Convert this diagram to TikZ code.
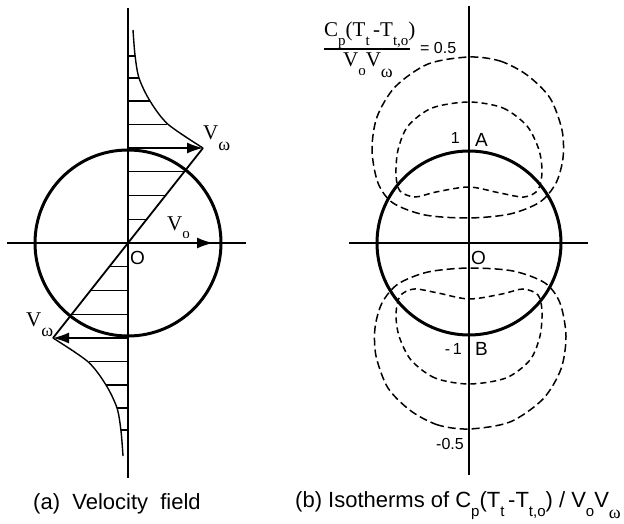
\documentclass[tikz,border=0pt]{standalone}
\usepackage{fontspec}
\setmainfont{Liberation Sans}
\newfontfamily\serf{Liberation Serif}
\usepackage{tikz}
\usetikzlibrary{arrows.meta,positioning,calc}
\newcommand{\dn}[1]{\raisebox{-0.42em}{\fontsize{15}{15}\selectfont #1}}
\newcommand{\dnw}{\raisebox{-0.50em}{\fontsize{18}{18}\selectfont\serf ω}}
\tikzset{
  ax/.style={line width=1.4pt},
  cyl/.style={line width=3pt},
  prof/.style={line width=1.4pt},
  hatch/.style={line width=1.3pt},
  varr/.style={line width=1.6pt,-{Latex[length=16pt,width=11pt]}},
  isoOut/.style={line width=1.5pt,dash pattern=on 8pt off 4pt},
  isoIn/.style={line width=1.5pt,dash pattern=on 6pt off 4pt},
  fracbar/.style={line width=1.5pt},
  lab/.style={font=\fontsize{19}{21}\selectfont,inner sep=0pt},
  vlab/.style={font=\serf\fontsize{21}{22}\selectfont,inner sep=0pt},
  num/.style={font=\fontsize{16}{17}\selectfont,inner sep=0pt},
  capt/.style={font=\fontsize{22}{24}\selectfont,inner sep=0pt},
}
\begin{document}
\begin{tikzpicture}[x=1pt,y=-1pt]
  \useasboundingbox (0,0) rectangle (624,524);
  % (a) velocity field
  \coordinate (Oa) at (128,243);
  \coordinate (tipU) at (203,148);
  \coordinate (tipL) at (53,338);
  \coordinate (baseU) at (128,148);
  \coordinate (baseL) at (128,338);
  \coordinate (voEnd) at (213,243);
  \draw[ax] (128,8) -- (128,478);
  \draw[ax] (7,243) -- (246,243);
  \draw[cyl] (Oa) circle[radius=93pt];
  \foreach \r in {0,180}{%
    \begin{scope}[rotate around={\r:(Oa)}]
      \draw[prof] plot[smooth] coordinates {(133,30) (135,55) (139,78) (150,101) (168,124.25) (203,148)};
      \foreach \y/\x in {219.25/146.75,195.5/165.5,171.75/184.25,124.25/167,101/150,78/139,56/135}{%
        \draw[hatch] (128,\y) -- (\x,\y);}
    \end{scope}}
  \draw[line width=1.8pt] (tipL) -- (tipU);
  \draw[varr] (baseU) -- (tipU);
  \draw[varr] (baseL) -- (tipL);
  \draw[varr] (Oa) -- (voEnd);
  \node[vlab,anchor=base west] (vwU) at (203,140) {V\dnw};
  \node[vlab,anchor=base west] (vwL) at (26,326) {V\dnw};
  \node[vlab,anchor=base west] (vo) at (167,230) {V\dn{o}};
  \node[lab,anchor=base west] (oA) at (130,264) {O};
  % (b) isotherms
  \coordinate (Ob) at (469,243);
  \draw[ax] (469,6) -- (469,475);
  \draw[ax] (349,243) -- (588,243);
  \draw[cyl] (Ob) circle[radius=92pt];
  \foreach \r in {0,180}{%
    \begin{scope}[rotate around={\r:(Ob)}]
      \draw[isoOut] plot[smooth cycle] coordinates {(469,57) (500,61) (527,75) (550,98) (562,130) (563,158) (556,183) (540,202) (510,214) (469,218) (425,215) (393,203) (378,183) (372,150) (377,117) (395,87) (428,64)};
      \draw[isoIn] plot[smooth cycle] coordinates {(469,102) (503,108) (527,126) (539,150) (542,172) (538,190) (524,197) (500,193) (469,187) (436,192) (415,197) (400,191) (396,175) (398,150) (408,126) (432,108)};
    \end{scope}}
  \node[num,anchor=base east] (one) at (460,144) {1};
  \node[lab,anchor=base west] (ptA) at (475,147) {A};
  \node[num,anchor=base east] (mone) at (462,354) {-\,1};
  \node[lab,anchor=base west] (ptB) at (475,355) {B};
  \node[lab,anchor=base west] (oB) at (471,264) {O};
  \node[num,anchor=base east] (mhalf) at (464,449) {-0.5};
  \node[num,anchor=base west] (half) at (420,54) {= 0.5};
  \node[vlab,anchor=base west] (numr) at (324,37) {C\dn{p}(T\dn{t}\,-T\dn{t,o})};
  \draw[fracbar] (numr.south west) -- ($(numr.south east)+(-6,0)$);
  \node[vlab,anchor=base] (denr) at (368,67) {V\dn{o}V\dnw};
  % captions
  \node[capt,anchor=base west] (capA) at (33,509) {(a)\ \ Velocity\ \ field};
  \node[capt,anchor=base west] (capB) at (295,507) {(b) Isotherms of C\dn{p}(T\dn{t}\,-T\dn{t,o}) / V\dn{o}V\dnw};
\end{tikzpicture}
\end{document}
